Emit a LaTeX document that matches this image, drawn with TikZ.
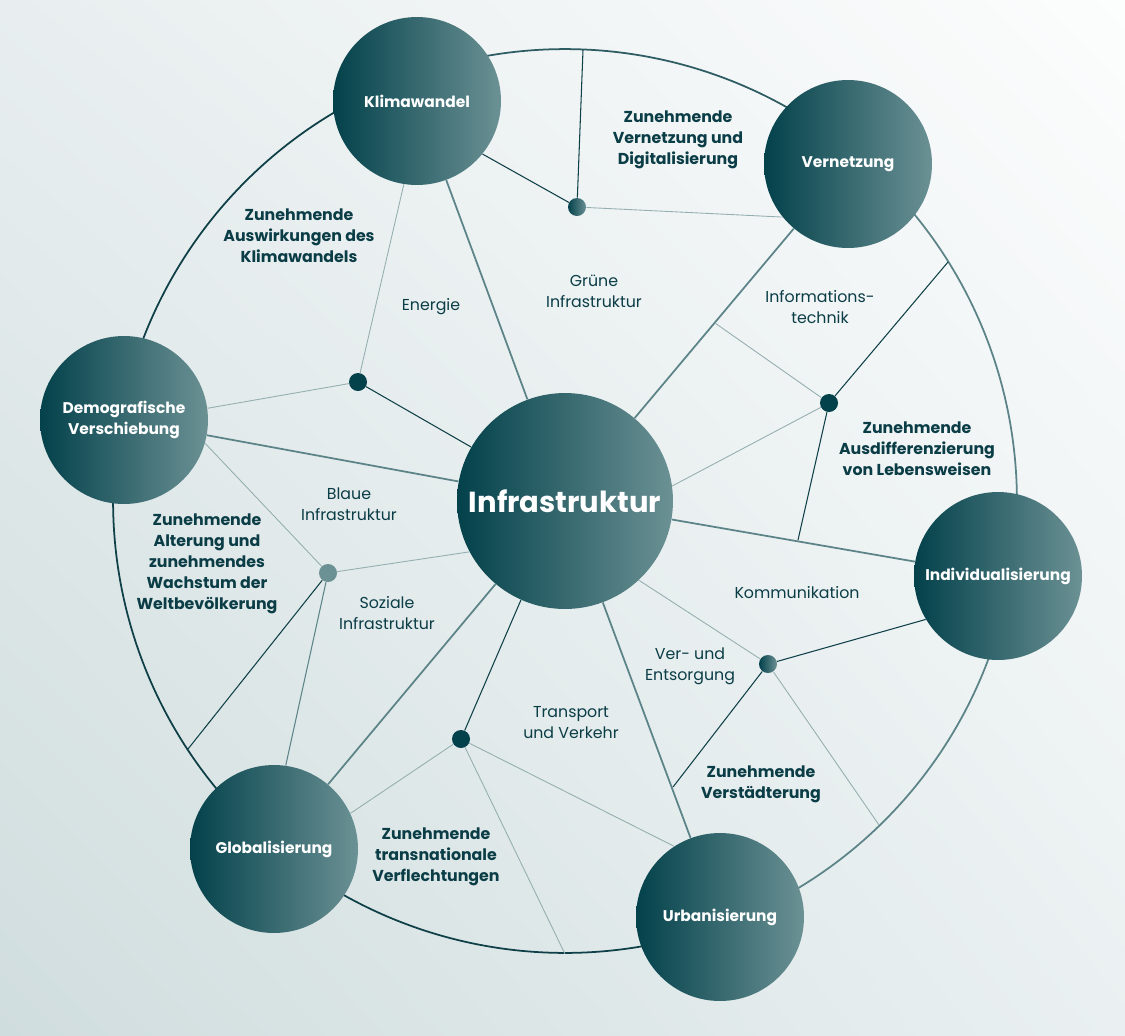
\documentclass[tikz,border=0pt]{standalone}
\usepackage{fontspec}
\setmainfont{Poppins}
\usepackage{tikz}
\usetikzlibrary{shadings}

\definecolor{tealdark}{HTML}{03414B}
\definecolor{teallight}{HTML}{6B9194}
\definecolor{textteal}{HTML}{0B3D47}
\definecolor{linedark}{HTML}{0F4048}
\definecolor{linelight}{HTML}{95AEB0}
\definecolor{linemid}{HTML}{5C8488}
\definecolor{ringmid}{HTML}{2E5C63}
\definecolor{bgtl}{HTML}{E8EEEF}
\definecolor{bgtr}{HTML}{FCFDFD}
\definecolor{bgbl}{HTML}{D0DDDE}
\definecolor{bgbr}{HTML}{EAF0F1}

\tikzset{
	sat/.style={circle, draw=none, left color=tealdark, right color=teallight, minimum size=3.36cm, inner sep=0pt, text=white, align=center, font=\fontsize{8.8}{12}\selectfont\bfseries},
	infra/.style={circle, draw=none, left color=tealdark, right color=teallight, minimum size=4.32cm, inner sep=0pt, text=white, font=\fontsize{16.5}{20}\selectfont\bfseries},
	hubdark/.style={circle, draw=none, fill=tealdark, minimum size=0.36cm, inner sep=0pt},
	hubshade/.style={circle, draw=none, left color=tealdark, right color=teallight, minimum size=0.36cm, inner sep=0pt},
	hublight/.style={circle, draw=none, fill=teallight, minimum size=0.36cm, inner sep=0pt},
	trendtext/.style={text=textteal, align=center, font=\fontsize{9}{12}\selectfont\bfseries},
	fieldtext/.style={text=textteal, align=center, font=\fontsize{9}{12}\selectfont},
	ldark/.style={draw=linedark, line width=0.6pt},
	llight/.style={draw=linelight, line width=0.5pt},
	lmid/.style={draw=linemid, line width=0.6pt},
	spokeline/.style={draw=linemid, line width=1pt},
	ringdark/.style={draw=linedark, line width=1pt},
	ringlight/.style={draw=linemid, line width=1pt},
	ringmedium/.style={draw=ringmid, line width=1pt}
}

\begin{document}
\begin{tikzpicture}[x=0.02cm, y=-0.02cm]
	\useasboundingbox (0,0) rectangle (1125,1035);
	\shade[upper left=bgtl, upper right=bgtr, lower left=bgbl, lower right=bgbr] (0,0) rectangle (1125,1035);

	\coordinate (C) at (565,501);
	\draw[ringmedium] (C) ++(110:9.04cm) arc[start angle=110, end angle=50, radius=9.04cm];
	\draw[ringlight] (C) ++(50:9.04cm) arc[start angle=50, end angle=-10, radius=9.04cm];
	\draw[ringlight] (C) ++(-10:9.04cm) arc[start angle=-10, end angle=-70, radius=9.04cm];
	\draw[ringdark] (C) ++(-70:9.04cm) arc[start angle=-70, end angle=-130, radius=9.04cm];
	\draw[ringdark] (C) ++(-130:9.04cm) arc[start angle=-130, end angle=-190, radius=9.04cm];
	\draw[ringdark] (C) ++(170:9.04cm) arc[start angle=170, end angle=110, radius=9.04cm];

	\coordinate (R1) at (583,50);
	\coordinate (R3) at (948,262);
	\coordinate (R4) at (879,825);
	\coordinate (R5) at (565,954);
	\coordinate (R6) at (188,749);
	\coordinate (P3a) at (715,323);
	\coordinate (P3b) at (798,540);
	\coordinate (P4) at (673,787);

	\node[sat] (Kli) at (417,101) {Klimawandel};
	\node[sat] (Ver) at (848,164) {Vernetzung};
	\node[sat] (Dem) at (124,420) {Demografische\\Verschiebung};
	\node[sat] (Ind) at (998,576) {Individualisierung};
	\node[sat] (Glo) at (274,849) {Globalisierung};
	\node[sat] (Urb) at (720,917) {Urbanisierung};
	\node[infra] (Inf) at (565,501) {Infrastruktur};

	\node[hubshade] (D1) at (577,207) {};
	\node[hubdark] (D2) at (358,382) {};
	\node[hubdark] (D3) at (829,403) {};
	\node[hubshade] (D4) at (768,664) {};
	\node[hubdark] (D5) at (461,739) {};
	\node[hublight] (D6) at (328,573) {};

	\draw[spokeline] (Inf) -- (Kli);
	\draw[spokeline] (Inf) -- (Ver);
	\draw[spokeline] (Inf) -- (Dem);
	\draw[spokeline] (Inf) -- (Ind);
	\draw[spokeline] (Inf) -- (Glo);
	\draw[spokeline] (Inf) -- (Urb);

	\draw[ldark] (D1) -- (Kli.-39);
	\draw[llight] (D1) -- (Ver.219);
	\draw[ldark] (D1) -- (R1);

	\draw[llight] (D2) -- (Kli.261);
	\draw[llight] (D2) -- (Dem.8);
	\draw[ldark] (D2) -- (Inf);

	\draw[ldark] (D3) -- (R3);
	\draw[llight] (D3) -- (Inf.8);
	\draw[ldark] (D3) -- (P3b);
	\draw[llight] (D3) -- (P3a);

	\draw[ldark] (D4) -- (Ind.211);
	\draw[llight] (D4) -- (Inf.-47);
	\draw[ldark] (D4) -- (P4);
	\draw[llight] (D4) -- (R4);

	\draw[ldark] (D5) -- (Inf.246);
	\draw[llight] (D5) -- (Glo.25);
	\draw[llight] (D5) -- (Urb.123);
	\draw[llight] (D5) -- (R5);

	\draw[llight] (D6) -- (Dem.-16);
	\draw[llight] (D6) -- (Inf.208);
	\draw[ldark] (D6) -- (R6);
	\draw[lmid] (D6) -- (Glo.82);

	\node[trendtext] (T1) at (299,236) {Zunehmende\\Auswirkungen des\\Klimawandels};
	\node[trendtext] (T2) at (678,140) {Zunehmende\\Vernetzung und\\Digitalisierung};
	\node[trendtext] (T3) at (917,449) {Zunehmende\\Ausdifferenzierung\\von Lebensweisen};
	\node[trendtext] (T4) at (761,784) {Zunehmende\\Verstädterung};
	\node[trendtext] (T5) at (436,857) {Zunehmende\\transnationale\\Verflechtungen};
	\node[trendtext] (T6) at (207,564) {Zunehmende\\Alterung und\\zunehmendes\\Wachstum der\\Weltbevölkerung};

	\node[fieldtext] (L1) at (431,307) {Energie};
	\node[fieldtext] (L2) at (594,291) {Grüne\\Infrastruktur};
	\node[fieldtext] (L3) at (820,307) {Informations-\\technik};
	\node[fieldtext] (L4) at (349,504) {Blaue\\Infrastruktur};
	\node[fieldtext] (L5) at (387,613) {Soziale\\Infrastruktur};
	\node[fieldtext] (L6) at (797,593) {Kommunikation};
	\node[fieldtext] (L7) at (690,666) {Ver- und\\Entsorgung};
	\node[fieldtext] (L8) at (571,723) {Transport\\und Verkehr};
\end{tikzpicture}
\end{document}
